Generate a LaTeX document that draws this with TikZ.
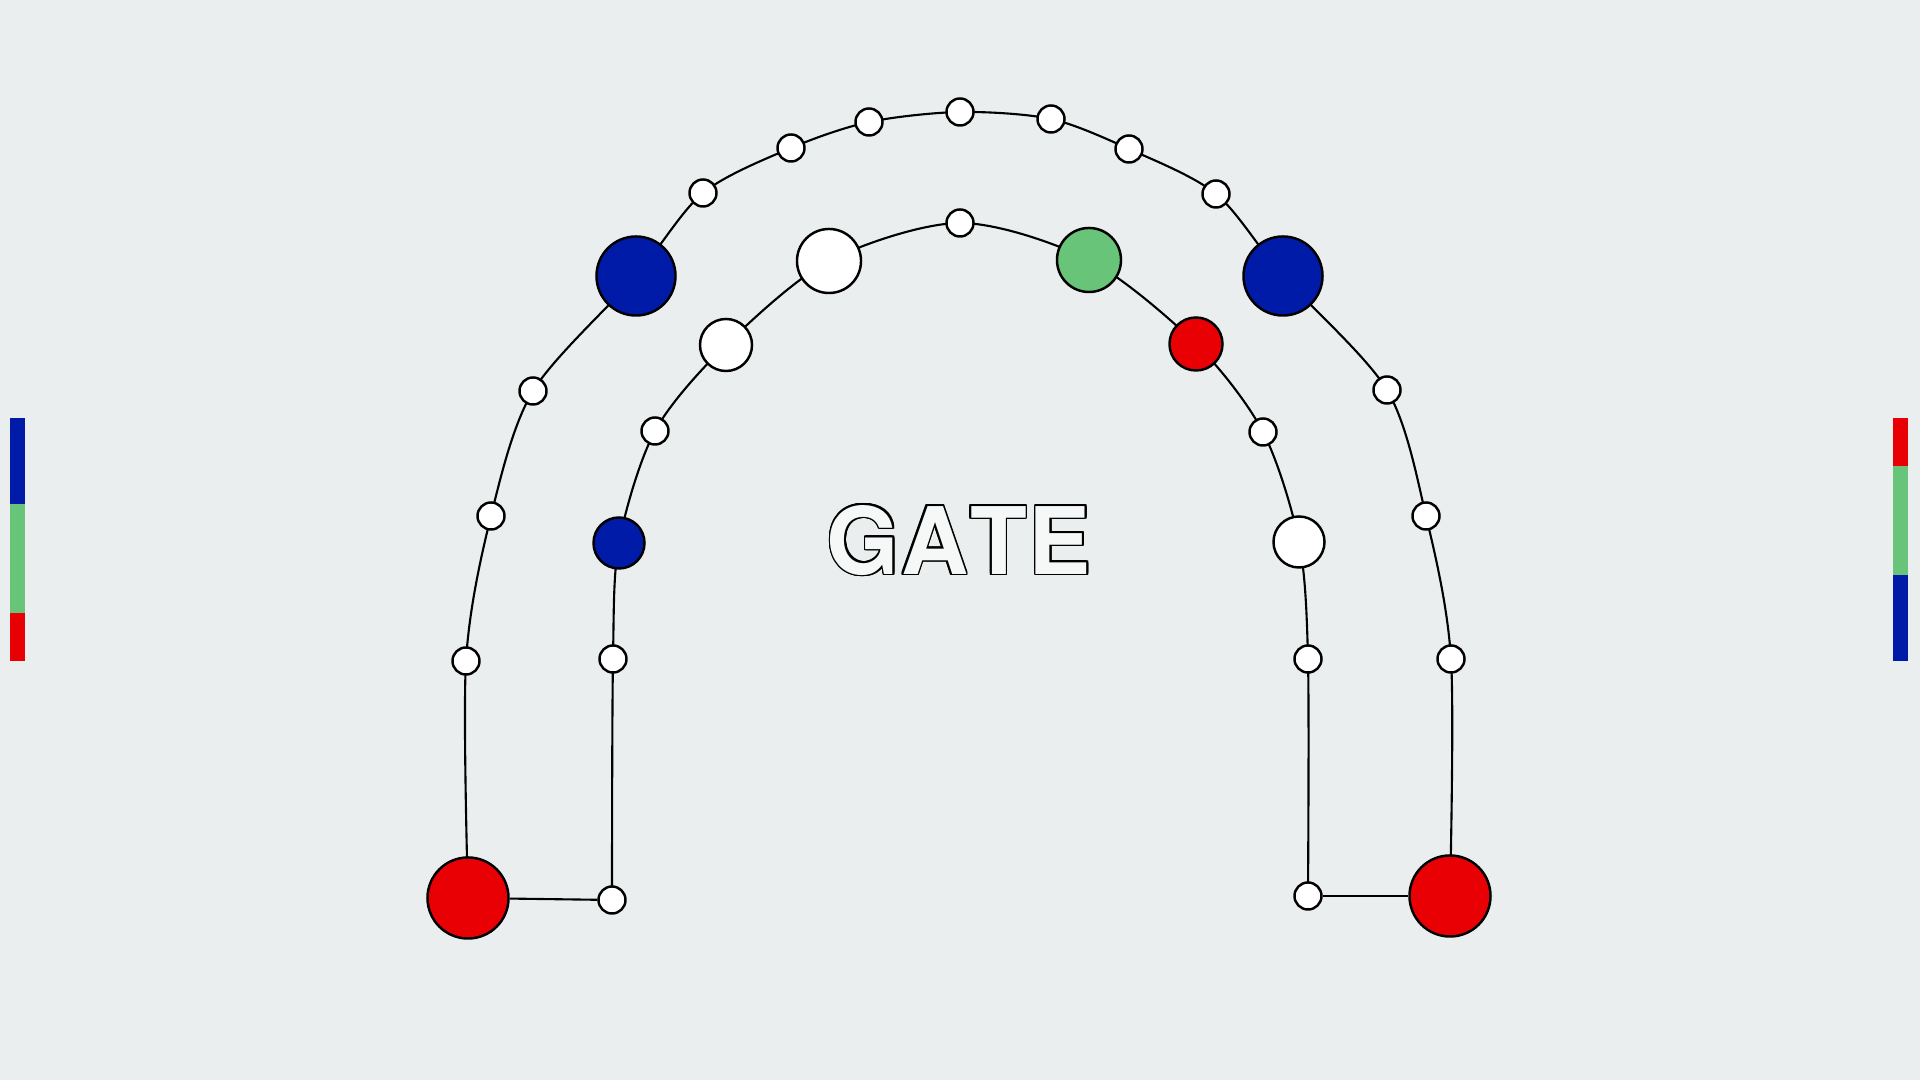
\documentclass[tikz,border=0pt]{standalone}
\usepackage{fontspec}
\setmainfont{TeX Gyre Heros}
\usepackage{contour}
\usetikzlibrary{backgrounds}
\definecolor{bgcol}{HTML}{EBEEEE}
\definecolor{gblue}{HTML}{001BA8}
\definecolor{ggreen}{HTML}{68C478}
\definecolor{gred}{HTML}{E80005}
\definecolor{gatefill}{HTML}{F6F8F8}
\contourlength{0.5pt}

\begin{document}
\begin{tikzpicture}[x=0.01cm, y=-0.01cm, % 1単位=1px、y軸は下向き
    bead/.style={circle, draw, line width=0.7pt, fill=white, inner sep=0pt, minimum size=#1},
    bead/.default=0.27cm, % 小さい丸
    link/.style={line width=0.6pt}] % 接続線
    \useasboundingbox (0,0) rectangle (1920,1080); % 画面サイズ
    \begin{scope}[on background layer]
        \fill[bgcol] (0,0) rectangle (1920,1080); % 背景
    \end{scope}

    % 左右のカラーバー
    \fill[gblue] (10,418) rectangle (25,504);
    \fill[ggreen] (10,504) rectangle (25,613);
    \fill[gred] (10,613) rectangle (25,661);
    \fill[gred] (1893,418) rectangle (1908,466);
    \fill[ggreen] (1893,466) rectangle (1908,575);
    \fill[gblue] (1893,575) rectangle (1908,661);

    % 外側のアーチ
    \node[bead=0.81cm, fill=gred] (rl) at (468,898) {};
    \node[bead] (o1) at (466,661) {};
    \node[bead] (o2) at (491,516) {};
    \node[bead] (o3) at (533,391) {};
    \node[bead=0.79cm, fill=gblue] (bl) at (636,276) {};
    \node[bead] (o4) at (703,193) {};
    \node[bead] (o5) at (791,148) {};
    \node[bead] (o6) at (869,122) {};
    \node[bead] (o7) at (960,112) {};
    \node[bead] (o8) at (1051,119) {};
    \node[bead] (o9) at (1129,149) {};
    \node[bead] (o10) at (1216,194) {};
    \node[bead=0.79cm, fill=gblue] (br) at (1283,276) {};
    \node[bead] (o11) at (1387,390) {};
    \node[bead] (o12) at (1426,516) {};
    \node[bead] (o13) at (1451,659) {};
    \node[bead=0.81cm, fill=gred] (rr) at (1450,896) {};

    % 内側のアーチ
    \node[bead] (i1) at (612,900) {};
    \node[bead] (i2) at (613,659) {};
    \node[bead=0.51cm, fill=gblue] (i3) at (619,543) {};
    \node[bead] (i4) at (655,431) {};
    \node[bead=0.52cm] (i5) at (726,345) {};
    \node[bead=0.64cm] (i6) at (829,261) {};
    \node[bead] (i7) at (960,223) {};
    \node[bead=0.64cm, fill=ggreen] (i8) at (1089,260) {};
    \node[bead=0.53cm, fill=gred] (i9) at (1196,344) {};
    \node[bead] (i10) at (1263,432) {};
    \node[bead=0.51cm] (i11) at (1299,542) {};
    \node[bead] (i12) at (1308,659) {};
    \node[bead] (i13) at (1308,896) {};

    \begin{scope}[on background layer] % 線は丸の下に
        \draw[link] plot[smooth] coordinates {(rl) (o1) (o2) (o3) (bl) (o4) (o5) (o6) (o7)
            (o8) (o9) (o10) (br) (o11) (o12) (o13) (rr)};
        \draw[link] plot[smooth] coordinates {(i1) (i2) (i3) (i4) (i5) (i6) (i7) (i8)
            (i9) (i10) (i11) (i12) (i13)};
    \end{scope}
    \draw[link] (rl)--(i1); % 下の横線
    \draw[link] (i13)--(rr);

    \node[font=\fontsize{26.5}{30}\selectfont\bfseries] (gate) at (959,541)
        {\contour{black}{\textcolor{gatefill}{G\kern0.5pt A\kern0.5pt T\kern0.5pt E}}}; % 白抜き文字
\end{tikzpicture}
\end{document}
